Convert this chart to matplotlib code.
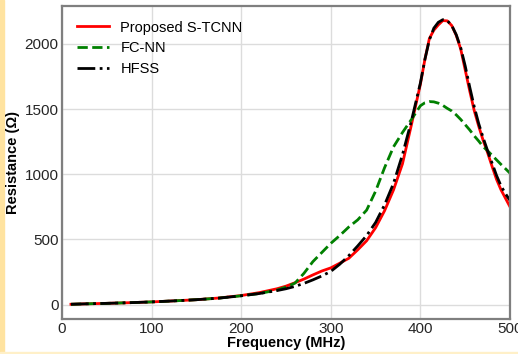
import matplotlib.pyplot as plt
from matplotlib.patches import Rectangle

plt.rcParams['font.family'] = ['Liberation Sans', 'DejaVu Sans']

# frequency points (MHz)
freq = [10, 25, 50, 75, 100, 125, 150, 175, 200, 220, 240, 250, 260, 270, 280, 290,
        300, 310, 320, 330, 340, 350, 360, 370, 380, 390, 400, 405, 410, 415, 420,
        425, 430, 435, 440, 445, 450, 455, 460, 465, 470, 475, 480, 485, 490, 495, 500]

# Proposed S-TCNN
r_stcnn = [3, 6, 10, 15, 21, 29, 38, 51, 70, 92, 122, 142, 168, 196, 228, 258,
           282, 318, 355, 420, 490, 590, 720, 880, 1080, 1380, 1690, 1880, 2040, 2105, 2145,
           2178, 2176, 2140, 2065, 1960, 1800, 1640, 1490, 1370, 1260, 1165, 1060, 960, 880, 815, 750]

# FC-NN
r_fcnn = [3, 6, 10, 15, 21, 29, 38, 50, 68, 85, 112, 135, 165, 240, 330, 400,
          470, 530, 595, 650, 725, 870, 1050, 1210, 1320, 1420, 1525, 1548, 1557, 1555, 1545,
          1528, 1505, 1485, 1455, 1420, 1380, 1340, 1295, 1255, 1212, 1180, 1145, 1110, 1075, 1042, 1008]

# HFSS
r_hfss = [3, 6, 10, 15, 21, 29, 38, 50, 68, 85, 108, 122, 140, 163, 190, 220,
          255, 310, 375, 450, 530, 630, 765, 930, 1150, 1410, 1700, 1880, 2030, 2120, 2165,
          2185, 2178, 2140, 2070, 1970, 1830, 1670, 1520, 1390, 1280, 1180, 1085, 990, 910, 850, 800]

fig = plt.figure(figsize=(5.18, 3.54), dpi=100)
ax = fig.add_axes([62/518, 1 - 319/354, 448/518, 313/354])

ax.plot(freq, r_stcnn, color='#ff0000', lw=2, ls='-', label='Proposed S-TCNN')
ax.plot(freq, r_fcnn, color='#008000', lw=2, ls='--', label='FC-NN')
ax.plot(freq, r_hfss, color='black', lw=2, ls='-.', label='HFSS')

ax.set_xlim(0, 500)
ax.set_ylim(-110, 2290)
ax.set_xticks([0, 100, 200, 300, 400, 500])
ax.set_yticks([0, 500, 1000, 1500, 2000])
ax.grid(True, color='#dcdcdc', lw=1)
ax.set_axisbelow(True)
ax.tick_params(length=0, labelsize=11, labelcolor='#262626', pad=2.5)
for s in ax.spines.values():
    s.set_color('#7f7f7f')
    s.set_linewidth(1.6)

ax.set_xlabel('Frequency (MHz)', fontsize=10.5, fontweight='bold', labelpad=0)
ax.set_ylabel('Resistance (Ω)', fontsize=10.5, fontweight='bold', labelpad=3)

ax.legend(loc='upper left', frameon=False, fontsize=10.5, handlelength=2.2,
          borderaxespad=0.6, labelspacing=0.45)

# beige screenshot edges
fig.patches.append(Rectangle((0, 0), 4/518, 1, transform=fig.transFigure,
                             color='#ffe3a0', zorder=-1))
fig.patches.append(Rectangle((0, 0), 1, 2/354, transform=fig.transFigure,
                             color='#fff0c8', zorder=-1))

fig.savefig('out.png', dpi=100)
